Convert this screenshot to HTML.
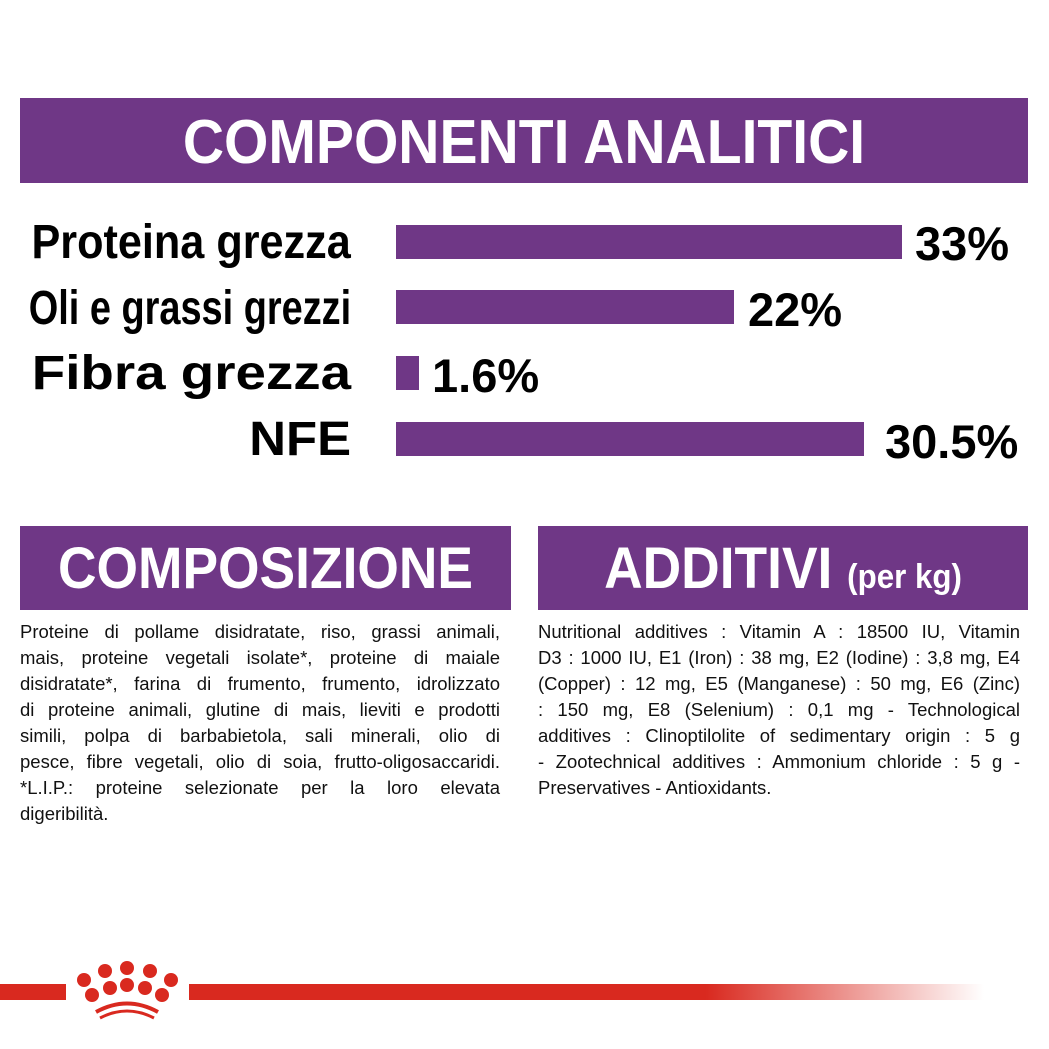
<!DOCTYPE html>
<html><head><meta charset="utf-8"><style>
body{margin:0;width:1049px;height:1049px;background:#fff;position:relative;overflow:hidden;font-family:"Liberation Sans",sans-serif}
.p{position:absolute;background:#6f3786}
.ban{position:absolute;color:#fff;font-weight:bold;text-align:center;white-space:nowrap}
.lab{position:absolute;right:698px;font-weight:bold;color:#000;white-space:nowrap;transform-origin:right center;font-size:48px;line-height:44px}
.val{position:absolute;font-weight:bold;color:#000;font-size:47px;line-height:44px;transform:scaleX(1.0);transform-origin:left center}
.txt{position:absolute;font-size:18.5px;line-height:26px;color:#111}
.txt div{text-align:justify;text-align-last:justify;white-space:nowrap;height:26px}
.txt div.l{text-align-last:left}
</style></head><body>
<div class="p" style="left:20px;top:98px;width:1008px;height:85px"></div>
<div class="ban" style="left:20px;width:1008px;top:108px;font-size:62px;line-height:70px;transform:scaleX(.92)">COMPONENTI ANALITICI</div>

<div class="lab" style="top:221px;transform:scaleX(.9)">Proteina grezza</div>
<div class="lab" style="top:287px;transform:scaleX(.79)">Oli e grassi grezzi</div>
<div class="lab" style="top:352px;transform:scaleX(1.14)">Fibra grezza</div>
<div class="lab" style="top:418px;transform:scaleX(1.06)">NFE</div>

<div class="p" style="left:396px;top:225px;width:506px;height:34px"></div>
<div class="p" style="left:396px;top:290px;width:338px;height:34px"></div>
<div class="p" style="left:396px;top:356px;width:23px;height:34px"></div>
<div class="p" style="left:396px;top:422px;width:468px;height:34px"></div>
<div class="val" style="left:915px;top:222px">33%</div>
<div class="val" style="left:748px;top:288px">22%</div>
<div class="val" style="left:432px;top:354px">1.6%</div>
<div class="val" style="left:885px;top:420px">30.5%</div>

<div class="p" style="left:20px;top:526px;width:491px;height:84px"></div>
<div class="ban" style="left:20px;width:491px;top:536px;font-size:58px;line-height:66px;transform:scaleX(.92)">COMPOSIZIONE</div>
<div class="p" style="left:538px;top:526px;width:490px;height:84px"></div>
<div class="ban" style="left:538px;width:490px;top:536px;font-size:58px;line-height:66px;transform:scaleX(.92)">ADDITIVI <span style="font-size:34px">(per kg)</span></div>

<div class="txt" style="left:20px;top:619px;width:480px">
<div>Proteine di pollame disidratate, riso, grassi animali,</div>
<div>mais, proteine vegetali isolate*, proteine di maiale</div>
<div>disidratate*, farina di frumento, frumento, idrolizzato</div>
<div>di proteine animali, glutine di mais, lieviti e prodotti</div>
<div>simili, polpa di barbabietola, sali minerali, olio di</div>
<div>pesce, fibre vegetali, olio di soia, frutto-oligosaccaridi.</div>
<div>*L.I.P.: proteine selezionate per la loro elevata</div>
<div class="l">digeribilità.</div>
</div>
<div class="txt" style="left:538px;top:619px;width:482px">
<div>Nutritional additives : Vitamin A : 18500 IU, Vitamin</div>
<div>D3 : 1000 IU, E1 (Iron) : 38 mg, E2 (Iodine) : 3,8 mg, E4</div>
<div>(Copper) : 12 mg, E5 (Manganese) : 50 mg, E6 (Zinc)</div>
<div>: 150 mg, E8 (Selenium) : 0,1 mg - Technological</div>
<div>additives : Clinoptilolite of sedimentary origin : 5 g</div>
<div>- Zootechnical additives : Ammonium chloride : 5 g -</div>
<div class="l">Preservatives - Antioxidants.</div>
</div>

<div style="position:absolute;left:0;top:984px;width:66px;height:16px;background:#d9291f"></div>
<div style="position:absolute;left:189px;top:984px;width:795px;height:16px;background:linear-gradient(90deg,#d9291f 0%,#d9291f 65%,#fff 100%)"></div>
<svg style="position:absolute;left:70px;top:955px" width="115" height="65" viewBox="70 955 115 65">
<g fill="#d9291f">
<circle cx="84" cy="980" r="7"/><circle cx="105" cy="971" r="7"/><circle cx="127" cy="968" r="7"/><circle cx="150" cy="971" r="7"/><circle cx="171" cy="980" r="7"/>
<circle cx="92" cy="995" r="7"/><circle cx="110" cy="988" r="7"/><circle cx="127" cy="985" r="7"/><circle cx="145" cy="988" r="7"/><circle cx="162" cy="995" r="7"/>
</g>
<path d="M96 1012 Q127 995 158 1012" stroke="#d9291f" stroke-width="4" fill="none"/>
<path d="M100 1018 Q127 1004 154 1018" stroke="#d9291f" stroke-width="3" fill="none"/>
</svg>
</body></html>
